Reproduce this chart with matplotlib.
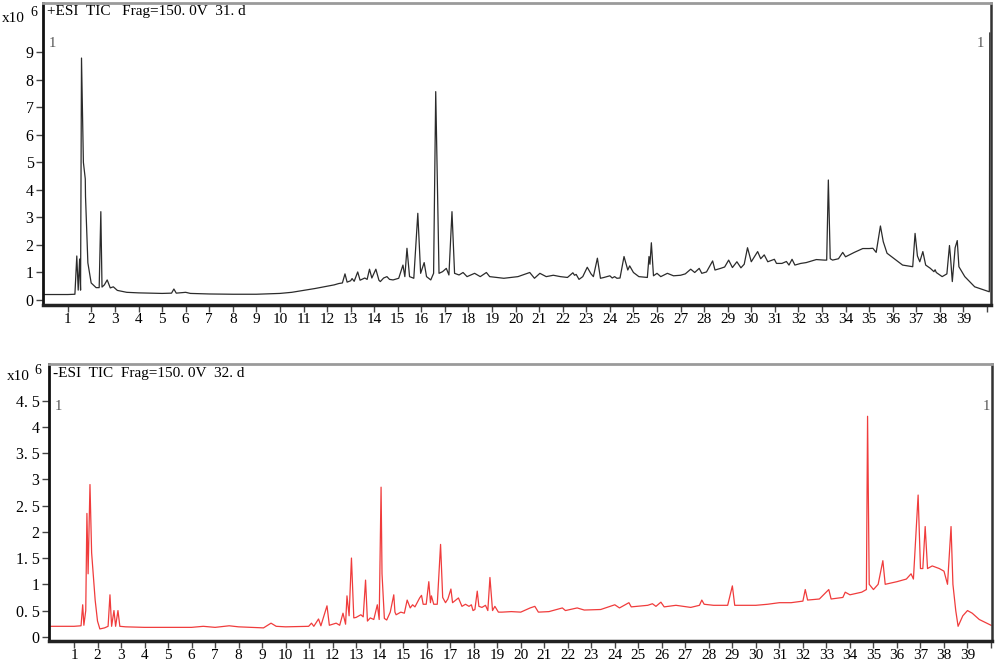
import numpy as np
import matplotlib.pyplot as plt

# TIC, +ESI (x10^6)
pos_t = [0.0, 1.0, 1.3, 1.38, 1.44, 1.5, 1.54, 1.58, 1.66, 1.74, 1.75, 1.85, 1.99, 2.2, 2.33,
         2.4, 2.45, 2.55, 2.67, 2.8, 2.93, 3.1, 3.5, 4.0, 5.0, 5.4, 5.5, 5.6, 6.0, 6.2, 7.0,
         8.0, 9.0, 10.0, 10.5, 11.0, 11.5, 12.0, 12.3, 12.5, 12.65, 12.76, 12.85, 13.0, 13.06,
         13.15, 13.3, 13.4, 13.6, 13.7, 13.8, 13.9, 14.07, 14.2, 14.26, 14.4, 14.54, 14.65,
         14.8, 15.04, 15.22, 15.3, 15.39,
         15.5, 15.68, 15.85, 15.97, 16.12, 16.22, 16.4, 16.52, 16.61, 16.75, 16.9, 17.06,
         17.17, 17.3, 17.41, 17.6, 17.77, 17.94, 18.26, 18.5, 18.76, 18.9, 19.5, 20.1, 20.6,
         20.8, 21.03, 21.3, 21.6, 21.9, 22.2, 22.43, 22.5, 22.57, 22.69, 22.85, 23.04, 23.2,
         23.3, 23.47, 23.6, 23.75, 24.0, 24.1, 24.2, 24.3, 24.43, 24.6, 24.76, 24.84, 25.0,
         25.23, 25.59, 25.66, 25.7, 25.76, 25.85, 26.0, 26.16, 26.44, 26.7, 27.0, 27.2, 27.43,
         27.6, 27.79, 27.9, 28.1, 28.36, 28.46, 28.7, 28.87, 29.04, 29.2, 29.39, 29.56, 29.7,
         29.84, 30.0, 30.27, 30.4, 30.55, 30.7, 30.98, 31.07, 31.3, 31.49, 31.6, 31.73, 31.85,
         32.1, 32.33, 32.76, 33.1, 33.2, 33.27, 33.35, 33.45, 33.7, 33.88, 34.0, 34.37, 34.73,
         35.0, 35.16, 35.3, 35.48, 35.6, 35.76, 36.14, 36.42, 36.85, 36.95, 37.05, 37.15,
         37.28, 37.4, 37.6, 37.75, 37.8, 37.85, 38.1, 38.3, 38.41, 38.45, 38.53, 38.65, 38.74,
         38.81, 39.06, 39.48, 40.1, 40.12]
pos_i = [0.2, 0.2, 0.21, 1.6, 0.36, 1.49, 0.36, 8.79, 5.0, 4.4, 3.76, 1.35, 0.62, 0.45, 0.45,
         3.21, 0.47, 0.55, 0.73, 0.44, 0.48, 0.35, 0.28, 0.26, 0.24, 0.25, 0.4, 0.25, 0.28, 0.24, 0.22,
         0.21, 0.21, 0.24, 0.28, 0.35, 0.42, 0.5, 0.55, 0.6, 0.62, 0.95, 0.65, 0.7, 0.78,
         0.68, 1.02, 0.72, 0.8, 0.75, 1.12, 0.8, 1.12, 0.72, 0.67, 0.8, 0.85, 0.75,
         0.73, 0.79, 1.27, 0.85, 1.88,
         0.85, 0.79, 3.15, 0.97, 1.36, 0.85, 0.73, 0.97, 7.57, 0.97, 1.03, 1.15,
         0.91, 3.21, 0.97, 0.91, 1.0, 0.85, 0.97, 0.85, 1.0, 0.85, 0.79, 0.85, 1.0,
         0.79, 0.97, 0.85, 0.9, 0.85, 0.82, 0.99, 0.9, 0.93, 0.75, 0.85, 1.19, 0.95,
         0.85, 1.52, 0.79, 0.82, 0.88, 0.8, 0.85, 0.79, 0.8, 1.58, 1.09, 1.24, 1.0,
         0.85, 0.82, 1.58, 1.3, 2.08, 0.88, 0.97, 0.85, 0.97, 0.88, 0.9, 0.95, 1.12,
         1.0, 1.15, 0.97, 1.02, 1.42, 1.09, 1.15, 1.2, 1.45, 1.18, 1.39, 1.17, 1.3,
         1.9, 1.39, 1.76, 1.5, 1.64, 1.39, 1.48, 1.33, 1.33, 1.4, 1.27, 1.48, 1.27,
         1.33, 1.36, 1.47, 1.45, 1.45, 4.36, 1.5, 1.45, 1.5, 1.73, 1.57, 1.73, 1.87,
         1.87, 1.88, 1.73, 2.69, 2.12, 1.7, 1.45, 1.27, 1.21, 2.42, 1.6, 1.39,
         1.76, 1.27, 1.15, 1.03, 1.1, 1.0, 0.85, 0.95, 1.98, 1.6, 0.67, 1.9, 2.16,
         1.21, 0.85, 0.48, 0.3, 9.7]

# TIC, -ESI (x10^6)
neg_t = [0.0, 1.0, 1.3, 1.37, 1.42, 1.5, 1.55, 1.6, 1.68, 1.75, 1.8, 1.9, 2.0, 2.1, 2.3, 2.45,
         2.53, 2.6, 2.7, 2.77, 2.87, 2.95, 3.2, 4.0, 5.0, 6.0, 6.5, 7.0, 7.6, 8.0, 8.5, 9.06,
         9.38, 9.6, 10.0, 10.98, 11.1, 11.2, 11.4, 11.5, 11.76, 11.86, 12.15, 12.3, 12.44,
         12.55, 12.61, 12.7, 12.8, 12.9, 13.0, 13.2, 13.3, 13.4, 13.48, 13.6, 13.75, 13.9,
         13.98, 14.06, 14.1, 14.2, 14.3, 14.45, 14.6, 14.65, 14.7, 14.9, 15.05, 15.17, 15.3,
         15.4, 15.5, 15.7, 15.78, 15.85, 15.98, 16.09, 16.16, 16.2, 16.3, 16.45, 16.59, 16.68,
         16.8, 16.9, 17.03, 17.1, 17.35, 17.5, 17.65, 17.8, 17.9, 17.97, 18.05, 18.15, 18.22,
         18.35, 18.5, 18.6, 18.69, 18.8, 18.9, 19.05, 19.2, 19.6, 20.0, 20.4, 20.6, 20.75,
         21.2, 21.77, 21.9, 22.4, 22.7, 23.4, 23.8, 24.0, 24.2, 24.6, 24.7, 25.4, 25.6, 25.75,
         25.96, 26.1, 26.6, 27.23, 27.6, 27.7, 27.8, 28.2, 28.8, 29.0, 29.1, 29.5, 30.0, 30.5,
         31.0, 31.5, 32.0, 32.1, 32.2, 32.7, 33.1, 33.2, 33.7, 33.8, 34.0, 34.5, 34.7, 34.75,
         34.82, 35.0, 35.2, 35.4, 35.5, 36.0, 36.4, 36.6, 36.7, 36.9, 37.0, 37.1, 37.2, 37.3,
         37.5, 37.8, 38.0, 38.15, 38.3, 38.38, 38.5, 38.6, 38.8, 39.0, 39.2, 39.5, 40.0]
neg_i = [0.2, 0.2, 0.21, 0.61, 0.22, 0.5, 2.35, 1.2, 2.9, 1.6, 1.3, 0.7, 0.3, 0.15, 0.17, 0.2,
         0.8, 0.2, 0.5, 0.2, 0.5, 0.2, 0.19, 0.18, 0.18, 0.18, 0.2, 0.18, 0.21, 0.19, 0.18, 0.17,
         0.26, 0.2, 0.19, 0.2, 0.26, 0.2, 0.34, 0.21, 0.59, 0.22, 0.26, 0.22, 0.45,
         0.24, 0.78, 0.4, 1.5, 0.36, 0.37, 0.42, 0.38, 1.08, 0.3, 0.36, 0.33, 0.61,
         0.33, 2.85, 1.2, 0.35, 0.32, 0.47, 0.8, 0.47, 0.42, 0.47, 0.45, 0.7, 0.55,
         0.61, 0.57, 0.74, 0.79, 0.62, 0.62, 1.05, 0.65, 0.78, 0.62, 0.62, 1.76, 0.75,
         0.65, 0.72, 0.91, 0.65, 0.74, 0.58, 0.62, 0.58, 0.61, 0.5, 0.52, 0.87, 0.58,
         0.56, 0.6, 0.5, 1.13, 0.5, 0.58, 0.47, 0.47, 0.48, 0.47, 0.55, 0.58, 0.47,
         0.48, 0.55, 0.5, 0.55, 0.51, 0.52, 0.58, 0.61, 0.55, 0.65, 0.57, 0.6, 0.63, 0.58,
         0.66, 0.57, 0.6, 0.56, 0.6, 0.7, 0.62, 0.6, 0.6, 0.97, 0.6, 0.6, 0.6, 0.62,
         0.65, 0.65, 0.68, 0.9, 0.7, 0.72, 0.9, 0.72, 0.75, 0.85, 0.8, 0.85, 0.9, 4.2,
         1.0, 0.9, 1.0, 1.45, 1.0, 1.05, 1.1, 1.2, 1.1, 2.7, 1.3, 1.3, 2.1, 1.3,
         1.35, 1.3, 1.25, 1.0, 2.1, 1.0, 0.5, 0.2, 0.4, 0.5, 0.45, 0.33, 0.22]

top_yticks = [0, 1, 2, 3, 4, 5, 6, 7, 8, 9]
bot_yticks = [0, 0.5, 1, 1.5, 2, 2.5, 3, 3.5, 4, 4.5]
bot_ylabels = ['0', '0. 5', '1', '1. 5', '2', '2. 5', '3', '3. 5', '4', '4. 5']
xticks = list(range(1, 41))
xlabels = [str(i) for i in range(1, 40)] + ['']

plt.rcParams['font.family'] = ['Liberation Serif', 'DejaVu Serif']

fig = plt.figure(figsize=(9.96, 6.62), dpi=100)
ax1 = fig.add_axes([0.0435, 0.5393, 0.9512, 0.4566])
ax2 = fig.add_axes([0.0495, 0.0317, 0.9462, 0.4180])


def style(ax):
    ax.spines['left'].set_linewidth(2)
    ax.spines['left'].set_color('#111111')
    ax.spines['bottom'].set_linewidth(2.5)
    ax.spines['bottom'].set_color('#222222')
    ax.spines['top'].set_linewidth(2)
    ax.spines['top'].set_color('#9a9a9a')
    ax.spines['right'].set_linewidth(1.8)
    ax.spines['right'].set_color('#333333')
    ax.tick_params(axis='both', direction='out', length=5, width=1, color='#444444',
                   labelsize=11.5, pad=2)
    ax.tick_params(axis='x', labelsize=11, pad=1)
    ax.set_xticks(xticks)
    ax.set_xticklabels(xlabels)


ax1.plot(pos_t, pos_i, color='#2b2b2b', lw=0.9)
ax1.set_xlim(-0.04, 40.16)
ax1.set_ylim(-0.18, 10.8)
style(ax1)
ax1.set_yticks(top_yticks)
ax1.set_yticklabels([str(v) for v in top_yticks])
ax1.text(0.004, 0.993, '+ESI  TIC   Frag=150. 0V  31. d', transform=ax1.transAxes,
         ha='left', va='top', fontsize=11)
ax1.text(0.006, 0.885, '1', transform=ax1.transAxes, ha='left', va='top', fontsize=10.5,
         color='#555555')
ax1.text(0.993, 0.885, '1', transform=ax1.transAxes, ha='right', va='top', fontsize=10.5,
         color='#555555')

ax2.plot(neg_t, neg_i, color='#f03c3c', lw=0.9)
ax2.set_xlim(-0.05, 40.03)
ax2.set_ylim(-0.08, 5.19)
style(ax2)
ax2.set_yticks(bot_yticks)
ax2.set_yticklabels(bot_ylabels)
ax2.text(0.004, 0.99, '-ESI  TIC  Frag=150. 0V  32. d', transform=ax2.transAxes,
         ha='left', va='top', fontsize=11)
ax2.text(0.006, 0.87, '1', transform=ax2.transAxes, ha='left', va='top', fontsize=10.5,
         color='#555555')
ax2.text(0.998, 0.87, '1', transform=ax2.transAxes, ha='right', va='top', fontsize=10.5,
         color='#555555')

fig.text(0.002, 0.972, 'x10', ha='left', va='center', fontsize=11)
fig.text(0.030, 0.981, '6', ha='left', va='center', fontsize=10)
fig.text(0.007, 0.432, 'x10', ha='left', va='center', fontsize=11)
fig.text(0.035, 0.441, '6', ha='left', va='center', fontsize=10)

fig.savefig('out.png', dpi=100)
